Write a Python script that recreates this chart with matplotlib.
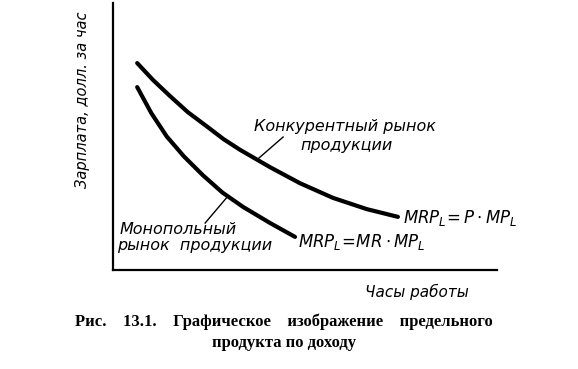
import matplotlib
matplotlib.use("Agg")
import matplotlib.pyplot as plt

# кривые (условные единицы 0..100)
comp_x = [6.3, 10.4, 14.8, 19.5, 24.7, 28.8, 33.1, 40.9, 48.7, 57.3, 66.1, 74.2]
comp_y = [77.5, 71.2, 65.2, 59.1, 53.5, 49.0, 45.0, 38.5, 32.5, 27.0, 22.8, 19.9]

mono_x = [6.3, 10.0, 14.0, 18.5, 23.4, 28.5, 33.9, 40.9, 47.4]
mono_y = [68.5, 58.7, 50.0, 42.5, 35.5, 29.0, 23.6, 17.6, 12.4]

ylabel = "Зарплата, долл. за час"
xlabel = "Часы работы"
caption1 = "Рис.    13.1.    Графическое    изображение    предельного"
caption2 = "продукта по доходу"

plt.rcParams['mathtext.fontset'] = 'dejavusans'
plt.rcParams['font.family'] = ['DejaVu Sans']

W, H = 578, 369
fig = plt.figure(figsize=(W / 100, H / 100), dpi=100)
ax = fig.add_axes([113 / W, 1 - 270 / H, (497 - 113) / W, (270 - 3) / H])
ax.set_xlim(0, 100)
ax.set_ylim(0, 100)
for s in ['top', 'right']:
    ax.spines[s].set_visible(False)
for s in ['left', 'bottom']:
    ax.spines[s].set_linewidth(1.6)
ax.set_xticks([])
ax.set_yticks([])

ax.plot(comp_x, comp_y, color='black', lw=3.0, solid_capstyle='round',
        solid_joinstyle='round')
ax.plot(mono_x, mono_y, color='black', lw=3.0, solid_capstyle='round',
        solid_joinstyle='round')

# выноски
ax.plot([37.5, 44.3], [41.3, 49.8], color='black', lw=1.0)
ax.plot([29.9, 24.0], [27.6, 17.6], color='black', lw=1.0)

lbl = dict(fontsize=11.5, style='italic', va='center', ha='left')
ax.text(36.7, 53.6, "Конкурентный рынок", **lbl)
ax.text(48.7, 46.8, "продукции", **lbl)
ax.text(1.8, 15.0, "Монопольный", **lbl)
ax.text(1.0, 9.0, "рынок  продукции", **lbl)
ax.text(75.5, 19.5, r"$MRP_L\!=P\cdot MP_L$", fontsize=12, va='center', ha='left')
ax.text(48.2, 10.5, r"$MRP_L\!=\!MR\cdot MP_L$", fontsize=12, va='center', ha='left')

fig.text(83 / W, 1 - 100 / H, ylabel, rotation=90, fontsize=10.5, style='italic',
         ha='center', va='center')
fig.text(417 / W, 1 - 292 / H, xlabel, fontsize=11, style='italic',
         ha='center', va='center')

cap = dict(family=['Liberation Serif', 'DejaVu Serif'], weight='bold', fontsize=12,
           ha='center', va='center')
fig.text(284 / W, 1 - 322 / H, caption1, **cap)
fig.text(284 / W, 1 - 343 / H, caption2, **cap)

fig.savefig("out.png", dpi=100)
plt.close()
